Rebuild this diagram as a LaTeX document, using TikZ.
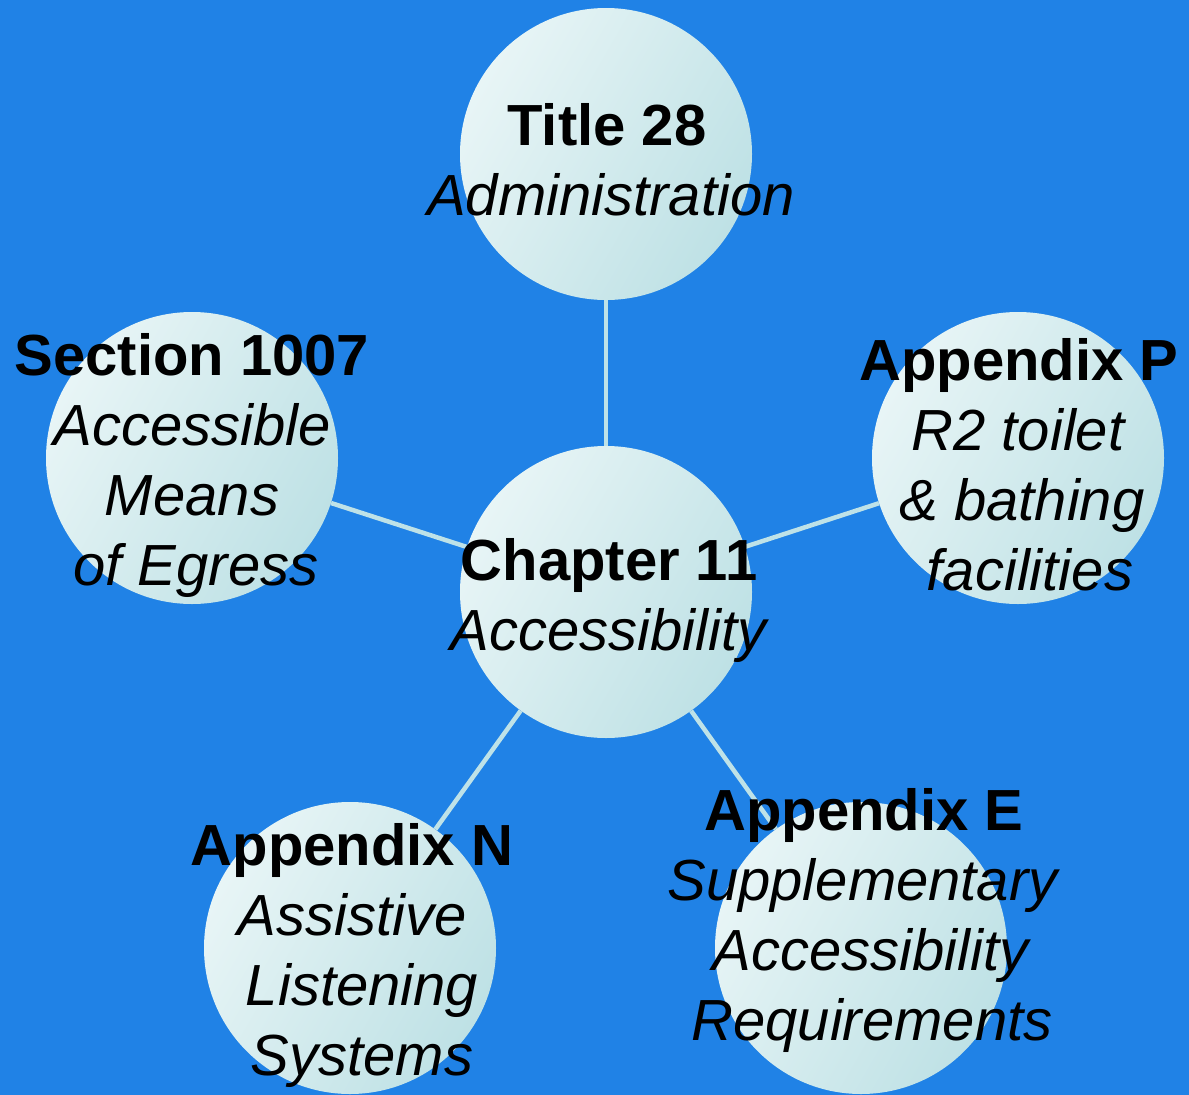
\documentclass[tikz,border=0pt]{standalone}
\usepackage{fontspec}
\setmainfont{Liberation Sans}
\definecolor{bgblue}{RGB}{32,130,230}
\definecolor{circL}{RGB}{232,245,246}
\definecolor{circR}{RGB}{190,225,229}
\definecolor{conn}{RGB}{190,226,232}
\tikzset{
  bub/.style={circle, minimum size=292pt, inner sep=0pt, left color=circL, right color=circR, shading angle=60},
  lbl/.style={align=center, inner sep=0pt, font=\fontsize{58}{70}\selectfont},
  link/.style={draw=conn, line width=4.5pt}
}
\begin{document}
\begin{tikzpicture}[x=1pt,y=-1pt]
\fill[bgblue] (0,0) rectangle (1189,1095);
\useasboundingbox (0,0) rectangle (1189,1095);
\node[bub] (ch) at (606,592) {};
\node[bub] (ti) at (606,154) {};
\node[bub] (se) at (192,458) {};
\node[bub] (ap) at (1018,458) {};
\node[bub] (an) at (350,948) {};
\node[bub] (ae) at (861,948) {};
\draw[link] (ch) -- (ti);
\draw[link] (ch) -- (se);
\draw[link] (ch) -- (ap);
\draw[link] (ch) -- (an);
\draw[link] (ch) -- (ae);
\node[lbl] (tch) at (606,600) {\textbf{Chapter 11}\hspace*{-6pt}\\\hspace*{8pt}\textit{Accessibility}};
\node[lbl] (tti) at (607,160) {\textbf{Title 28}\\\hspace*{8pt}\textit{Administration}};
\node[lbl] (tse) at (192,465) {\textbf{Section 1007}\\\textit{Accessible}\hspace*{6pt}\\\textit{Means}\hspace*{8pt}\\\hspace*{8pt}\textit{of Egress}};
\node[lbl] (tap) at (1019,465) {\textbf{Appendix P}\\\textit{R2 toilet}\hspace*{8pt}\\\hspace*{6pt}\textit{\& bathing}\\\hspace*{22pt}\textit{facilities}};
\node[lbl] (tan) at (352,955) {\textbf{Appendix N}\\\textit{Assistive}\\\hspace*{20pt}\textit{Listening}\\\hspace*{20pt}\textit{Systems}};
\node[lbl] (tae) at (864,920) {\textbf{Appendix E}\\\textit{Supplementary}\\\hspace*{16pt}\textit{Accessibility}\\\hspace*{16pt}\textit{Requirements}};
\end{tikzpicture}
\end{document}
